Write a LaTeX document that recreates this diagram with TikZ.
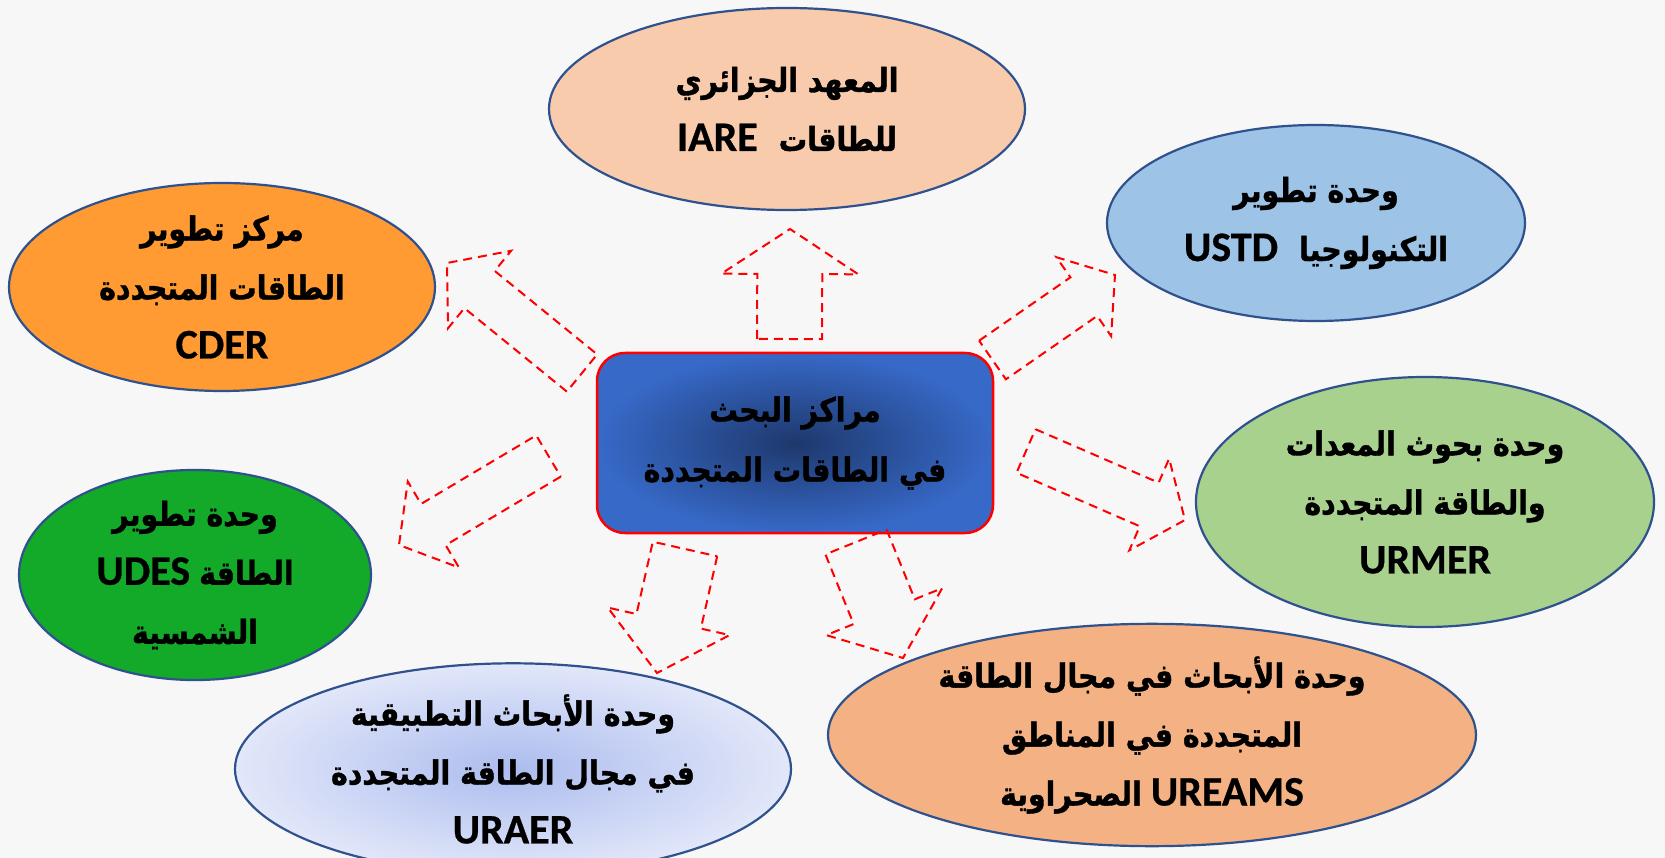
\documentclass[tikz,border=0pt]{standalone}
\usepackage{fontspec}
\usetikzlibrary{shapes.geometric,calc}
\TeXXeTstate=1
\newfontfamily\arfont[Script=Arabic, FakeStretch=0.86, BoldFeatures={FakeBold=1.2}]{DejaVu Sans}
\newfontfamily\latfont[BoldFeatures={FakeBold=0.6}]{Carlito}
\newcommand\artxt[1]{{\arfont\bfseries\fontsize{33}{59}\selectfont\beginR #1\endR}}
\newcommand\latxt[1]{{\latfont\bfseries\fontsize{42}{59}\selectfont #1}}
\definecolor{bgc}{RGB}{247,247,247}
\definecolor{edgeblue}{RGB}{47,82,143}
\definecolor{cIARE}{RGB}{248,203,173}
\definecolor{cUSTD}{RGB}{157,195,230}
\definecolor{cCDER}{RGB}{255,155,50}
\definecolor{cURMER}{RGB}{169,209,142}
\definecolor{cUDES}{RGB}{18,170,40}
\definecolor{cUREAMS}{RGB}{244,177,131}
\definecolor{cURAERin}{RGB}{172,188,238}
\definecolor{cURAERout}{RGB}{226,231,249}
\definecolor{cCin}{RGB}{30,56,108}
\definecolor{cCout}{RGB}{55,105,200}
\newcommand\blockarrow[6]{% name, tail, tip, half shaft, half head, head length
  \coordinate (#1-h) at ($(#3)!#6!(#2)$);
  \draw[arrowline] ($(#2)!#4!90:(#3)$) -- ($(#1-h)!#4!90:(#3)$) -- ($(#1-h)!#5!90:(#3)$) -- (#3)
    -- ($(#1-h)!#5!-90:(#3)$) -- ($(#1-h)!#4!-90:(#3)$) -- ($(#2)!#4!-90:(#3)$) -- cycle;
}
\tikzset{
  orb/.style={ellipse, draw=edgeblue, line width=2.2pt, inner sep=0pt, align=center,
    font=\fontsize{30}{59}\selectfont},
  arrowline/.style={draw=red, line width=2pt, dash pattern=on 9pt off 6pt, line join=miter},
}
\begin{document}
\begin{tikzpicture}[x=1pt,y=-1pt]
\useasboundingbox (0,0) rectangle (1665,858);
\clip (0,0) rectangle (1665,858);
\fill[bgc] (0,0) rectangle (1665,858);

% centre
\node[draw=red, line width=2.5pt, rounded corners=28pt, inner color=cCin, outer color=cCout,
  minimum width=396pt, minimum height=180pt, align=center, font=\fontsize{30}{60}\selectfont]
  (centre) at (795,443) {\artxt{مراكز البحث}\\\artxt{في الطاقات المتجددة}};

% satellites
\node[orb, fill=cIARE, minimum width=476pt, minimum height=202pt] (iare) at (787,109)
  {\artxt{المعهد الجزائري}\\\latxt{IARE}\hspace{0.7em}\artxt{للطاقات}};
\node[orb, fill=cUSTD, minimum width=418pt, minimum height=196pt] (ustd) at (1316,223)
  {\artxt{وحدة تطوير}\\\latxt{USTD}\hspace{0.7em}\artxt{التكنولوجيا}};
\node[orb, fill=cCDER, minimum width=426pt, minimum height=208pt] (cder) at (222,287)
  {\artxt{مركز تطوير}\\\artxt{الطاقات المتجددة}\\\latxt{CDER}};
\node[orb, fill=cURMER, minimum width=458pt, minimum height=250pt] (urmer) at (1425,502)
  {\artxt{وحدة بحوث المعدات}\\\artxt{والطاقة المتجددة}\\\latxt{URMER}};
\node[orb, fill=cUDES, minimum width=352pt, minimum height=210pt] (udes) at (195,575)
  {\artxt{وحدة تطوير}\\\latxt{UDES}\hspace{0.3em}\artxt{الطاقة}\\\artxt{الشمسية}};
\node[orb, inner color=cURAERin, outer color=cURAERout, minimum width=556pt, minimum height=204pt] (uraer) at (513,769)
  {\artxt{وحدة الأبحاث التطبيقية}\\\artxt{في مجال الطاقة المتجددة}\\\latxt{URAER}};
\node[orb, fill=cUREAMS, minimum width=648pt, minimum height=218pt] (ureams) at (1152,735)
  {\artxt{وحدة الأبحاث في مجال الطاقة}\\\artxt{المتجددة في المناطق}\\\artxt{الصحراوية}\hspace{0.3em}\latxt{UREAMS}};

% block arrows: tail centre and tip
\coordinate (a1t) at (789.5,339); \coordinate (a1p) at (790,229);
\coordinate (a2t) at (582,373);   \coordinate (a2p) at (447,263);
\coordinate (a3t) at (992.5,360); \coordinate (a3p) at (1115,275);
\coordinate (a4t) at (1026,451);  \coordinate (a4p) at (1185,520);
\coordinate (a5t) at (548.5,456); \coordinate (a5p) at (399,545);
\coordinate (a6t) at (685,549);   \coordinate (a6p) at (657,673);
\coordinate (a7t) at (856,542);   \coordinate (a7p) at (903,658);
\blockarrow{a1}{a1t}{a1p}{32.5pt}{68.5pt}{45pt}
\blockarrow{a2}{a2t}{a2p}{24pt}{50pt}{42pt}
\blockarrow{a3}{a3t}{a3p}{23.5pt}{48pt}{38pt}
\blockarrow{a4}{a4t}{a4p}{23.75pt}{50pt}{39pt}
\blockarrow{a5}{a5t}{a5p}{24pt}{50pt}{40pt}
\blockarrow{a6}{a6t}{a6p}{33pt}{62.5pt}{53pt}
\blockarrow{a7}{a7t}{a7p}{33pt}{62.5pt}{50pt}
\end{tikzpicture}
\end{document}
